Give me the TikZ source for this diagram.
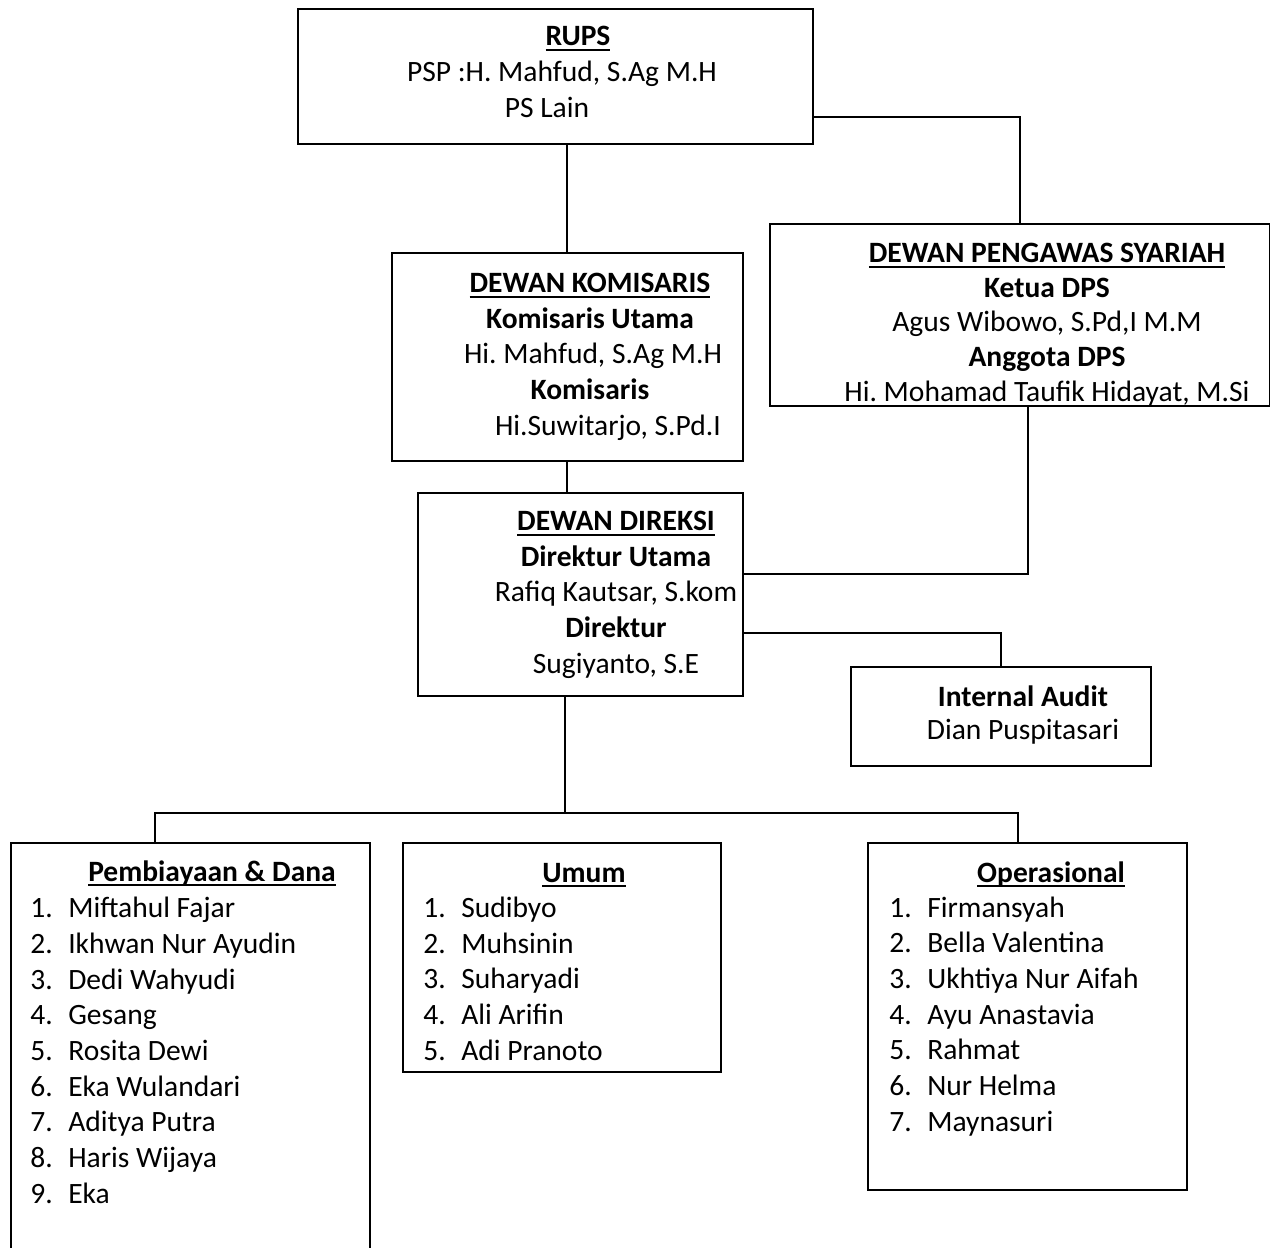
\documentclass[tikz,border=0pt]{standalone}
\usepackage{amsmath}
\usepackage{fontspec}
\setmainfont{Carlito}
\usetikzlibrary{calc}
\tikzset{
  % boxes, texts and lines of the chart
  org box/.style={draw,line width=1.1pt,anchor=north west,inner sep=0},
  org text/.style={align=center,inner sep=0,anchor=base},
  member list/.style={align=left,inner sep=0,anchor=base west},
  org link/.style={line width=1.1pt}
}
% bold heading with a thick underline
\newcommand{\headline}[1]{\setbox0\hbox{\textbf{#1}}\rlap{\rule[-3.1pt]{\wd0}{1.2pt}}\box0}
\newcommand{\num}[1]{\makebox[0.76cm][l]{#1.}}
\frenchspacing

\begin{document}
\begin{tikzpicture}[x=0.02cm,y=-0.02cm,font=\fontsize{16.8pt}{20.3pt}\selectfont]
  \useasboundingbox (0,0) rectangle (1270,1247);
  % The boxes
  \node[org box,minimum width=10.3cm,minimum height=2.7cm] (rups) at (297,8) {};
  \node[org box,minimum width=7.02cm,minimum height=4.16cm] (komisaris) at (391,252) {};
  \node[org box,minimum width=10cm,minimum height=3.64cm] (dps) at (769,223) {};
  \node[org box,minimum width=6.5cm,minimum height=4.06cm] (direksi) at (417,492) {};
  \node[org box,minimum width=6cm,minimum height=1.98cm] (audit) at (850,666) {};
  \node[org box,minimum width=7.18cm,minimum height=8.6cm] (dana) at (10,842) {};
  \node[org box,minimum width=6.36cm,minimum height=4.58cm] (umum) at (402,842) {};
  \node[org box,minimum width=6.38cm,minimum height=6.94cm] (ops) at (867,842) {};
  % The texts (anchored at the baseline of their last line)
  \node[org text] (rups-txt) at (562,117)
    {\hspace*{0.64cm}\headline{RUPS}\\PSP :H. Mahfud, S.Ag M.H\\PS Lain\hspace*{0.6cm}};
  \node[org text] (komisaris-txt) at (590,435)
    {\headline{DEWAN KOMISARIS}\\\textbf{Komisaris Utama}\\\hspace*{0.12cm}Hi. Mahfud, S.Ag M.H\\
     \textbf{Komisaris}\\\hspace*{0.72cm}Hi.Suwitarjo, S.Pd.I};
  \node[org text] (dps-txt) at (1047,401)
    {\headline{DEWAN PENGAWAS SYARIAH}\\[-0.6pt]\textbf{Ketua DPS}\\[-0.6pt]Agus Wibowo, S.Pd,I M.M\\[-0.6pt]
     \textbf{Anggota DPS}\\[-0.6pt]Hi. Mohamad Taufik Hidayat, M.Si};
  \node[org text] (direksi-txt) at (616,673)
    {\headline{DEWAN DIREKSI}\\\textbf{Direktur Utama}\\Rafiq Kautsar, S.kom\\
     \textbf{Direktur}\\Sugiyanto, S.E};
  \node[org text] (audit-txt) at (1023,739)
    {\textbf{Internal Audit}\\[-2pt]Dian Puspitasari};
  % the three units
  \node[org text] (dana-head) at (212,881) {\headline{Pembiayaan \& Dana}};
  \node[member list] (dana-list) at (30,1203)
    {\num{1}Miftahul Fajar\\\num{2}Ikhwan Nur Ayudin\\\num{3}Dedi Wahyudi\\
     \num{4}Gesang\\\num{5}Rosita Dewi\\\num{6}Eka Wulandari\\
     \num{7}Aditya Putra\\\num{8}Haris Wijaya\\\num{9}Eka};
  \node[org text] (umum-head) at (584,882) {\headline{Umum}};
  \node[member list] (umum-list) at (423,1060)
    {\num{1}Sudibyo\\\num{2}Muhsinin\\\num{3}Suharyadi\\\num{4}Ali Arifin\\\num{5}Adi Pranoto};
  \node[org text] (ops-head) at (1051,882) {\headline{Operasional}};
  \node[member list] (ops-list) at (889,1131)
    {\num{1}Firmansyah\\\num{2}Bella Valentina\\\num{3}Ukhtiya Nur Aifah\\
     \num{4}Ayu Anastavia\\\num{5}Rahmat\\\num{6}Nur Helma\\\num{7}Maynasuri};
  % Lines between the boxes
  \draw[org link] (rups.south -| komisaris.north) -- (komisaris.north);
  \draw[org link] ($(rups.north east)+(0,109)$) -| (dps.north);
  \draw[org link] (komisaris.south) -- (komisaris.south |- direksi.north);
  \draw[org link] ($(dps.south)+(8,0)$) |- ($(direksi.north east)+(0,82)$);
  \draw[org link] ($(direksi.north east)+(0,141)$) -| (audit.north);
  \coordinate (fork) at (565,813);
  \coordinate (fork-l) at (155,813);
  \coordinate (fork-r) at (1018,813);
  \draw[org link] (direksi.south -| fork) -- (fork);
  \draw[org link] (fork-l |- dana.north) -- (fork-l) -- (fork-r) -- (fork-r |- ops.north);
\end{tikzpicture}
\end{document}
